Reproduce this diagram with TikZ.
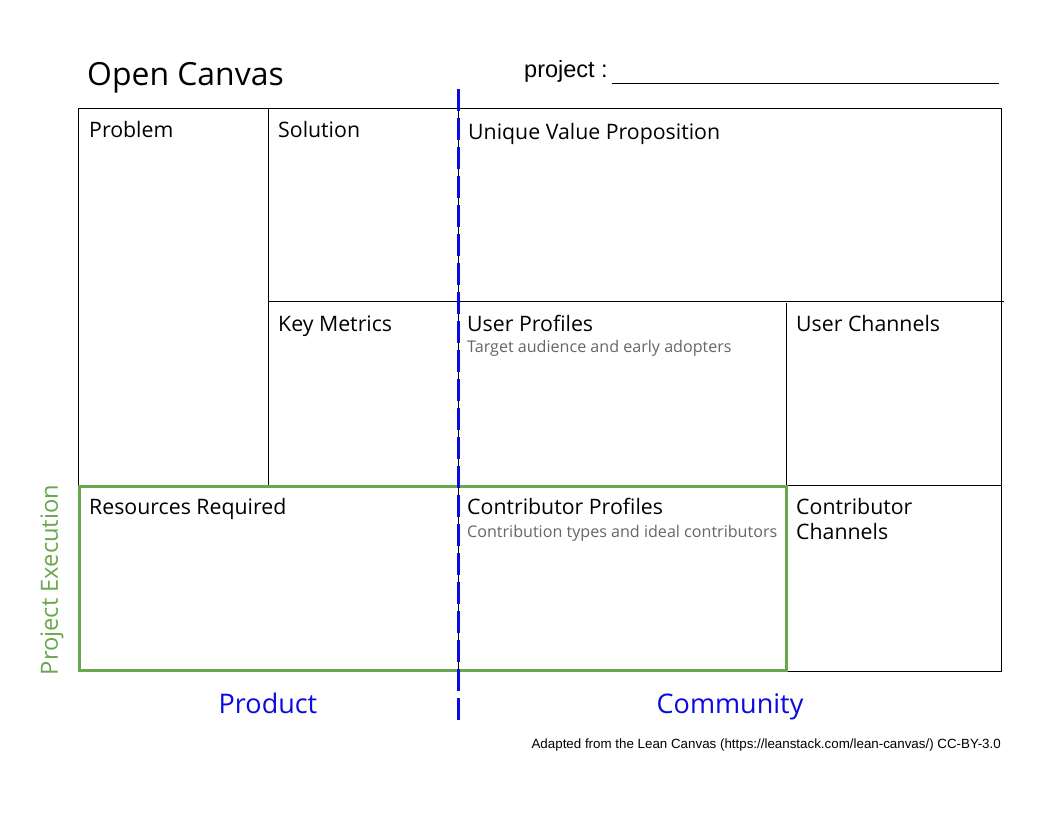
\documentclass[tikz,border=0pt]{standalone}
\usepackage{fontspec}
\setmainfont{Open Sans}
\newfontfamily\arialfont{Liberation Sans}
\definecolor{execgreen}{RGB}{106,168,79}
\definecolor{splitblue}{RGB}{10,10,225}
\definecolor{hintgray}{RGB}{102,102,102}

\begin{document}
\begin{tikzpicture}[x=1pt, y=-1pt,
  grid/.style={black, line width=1pt},
  cell/.style={anchor=base west, inner sep=0pt, font=\fontsize{21.3}{26}\selectfont},
  hint/.style={anchor=base west, inner sep=0pt, text=hintgray, font=\fontsize{16.1}{19}\selectfont},
  axis/.style={inner sep=0pt, text=splitblue, font=\fontsize{27}{32}\selectfont}]
  \useasboundingbox[fill=white] (0,0) rectangle (1056,816);
  % corners of the canvas
  \coordinate (NW) at (78,108);
  \coordinate (SE) at (1001,671);
  \draw[grid] (NW) rectangle (SE);
  \draw[grid] (268,108) -- (268,485);
  \draw[grid] (458,108) -- (458,671);
  \draw[grid] (786,303) -- (786,671);
  \draw[grid] (268,301) -- (1004,301);
  \draw[grid] (78,485) -- (1001,485);
  % project execution block
  \draw[execgreen, line width=3pt] (79,486) rectangle (786,670);
  % product / community split
  \coordinate (splittop) at (458,89);
  \coordinate (splitbot) at (458,721);
  \draw[splitblue, line width=3pt, dash pattern=on 22pt off 7pt] (splittop) -- (splitbot);
  % header
  \node[anchor=base west, inner sep=0pt, font=\fontsize{31.9}{36}\selectfont] (title) at (87,85) {Open Canvas};
  \node[anchor=base west, inner sep=0pt, font=\arialfont\fontsize{23.5}{28}\selectfont] (project) at (524,77) {project :};
  \coordinate (lineend) at (999,83);
  \draw[black, line width=1pt] (612,83) -- (lineend);
  % cells
  \node[cell] (problem) at (89,137) {Problem};
  \node[cell] (solution) at (278,137) {Solution};
  \node[cell] (uvp) at (468,139) {Unique Value Proposition};
  \node[cell] (metrics) at (278,331) {Key Metrics};
  \node[cell] (users) at (467,331) {User Profiles};
  \node[hint] (usershint) at (467,352) {Target audience and early adopters};
  \node[cell] (userch) at (796,331) {User Channels};
  \node[cell] (resources) at (89,514) {Resources Required};
  \node[cell] (contrib) at (467,514) {Contributor Profiles};
  \node[hint] (contribhint) at (467,537) {Contribution types and ideal contributors};
  \node[cell] (contribch) at (796,514) {Contributor};
  \node[cell] (contribch2) at (796,539) {Channels};
  % axes
  \node[axis, anchor=base] (product) at (268,713) {Product};
  \node[axis, anchor=base] (community) at (730,713) {Community};
  \node[inner sep=0pt, rotate=90, text=execgreen, font=\fontsize{23.7}{28}\selectfont] (execution) at (52,580) {Project Execution};
  \node[anchor=base east, inner sep=0pt, font=\arialfont\fontsize{13.35}{16}\selectfont] (credit) at (1001,748) {Adapted from the Lean Canvas (https://leanstack.com/lean-canvas/) CC-BY-3.0};
\end{tikzpicture}
\end{document}
